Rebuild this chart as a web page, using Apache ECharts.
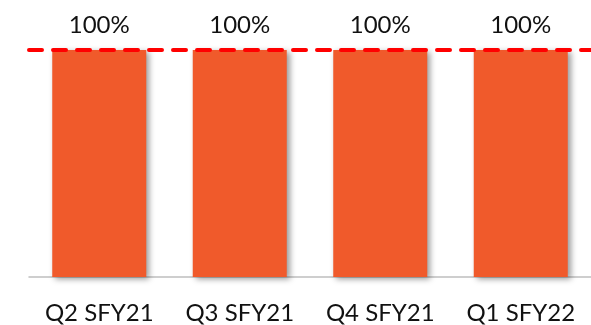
<!DOCTYPE html>
<html><head><meta charset="utf-8">
<script src="https://cdn.jsdelivr.net/npm/echarts@6/dist/echarts.min.js"></script>
<style>html,body{margin:0;padding:0;background:#fff}#c{width:591px;height:325px}</style>
</head><body><div id="c"></div>
<script>
var categories = ['Q2 SFY21', 'Q3 SFY21', 'Q4 SFY21', 'Q1 SFY22'];
var values = [100, 100, 100, 100];
var targetValue = 100;

var chart = echarts.init(document.getElementById('c'), null, {renderer: 'canvas'});
chart.setOption({
  animation: false,
  grid: {left: 29, right: -6, top: 50, bottom: 48},
  xAxis: {
    type: 'category', data: categories,
    axisLine: {lineStyle: {color: '#bfbfbf', width: 1.5}},
    axisTick: {show: false},
    axisLabel: {color: '#111', fontFamily: 'Lato', fontSize: 24, margin: 24, interval: 0, hideOverlap: false}
  },
  yAxis: {type: 'value', min: 0, max: 100, show: false, splitLine: {show: false}},
  series: [{
    type: 'bar', data: values, barWidth: 94,
    itemStyle: {color: '#F05A2B', shadowColor: 'rgba(0,0,0,0.4)', shadowBlur: 6, shadowOffsetX: 3, shadowOffsetY: 2},
    label: {show: true, position: 'top', distance: 13, formatter: '{c}%', color: '#111', fontFamily: 'Lato', fontSize: 24},
    markLine: {
      silent: true, symbol: 'none', label: {show: false},
      lineStyle: {color: '#FF0000', width: 4, type: [13, 11], cap: 'round'},
      data: [{yAxis: targetValue}]
    },
    z: 2
  }]
});
</script></body></html>
